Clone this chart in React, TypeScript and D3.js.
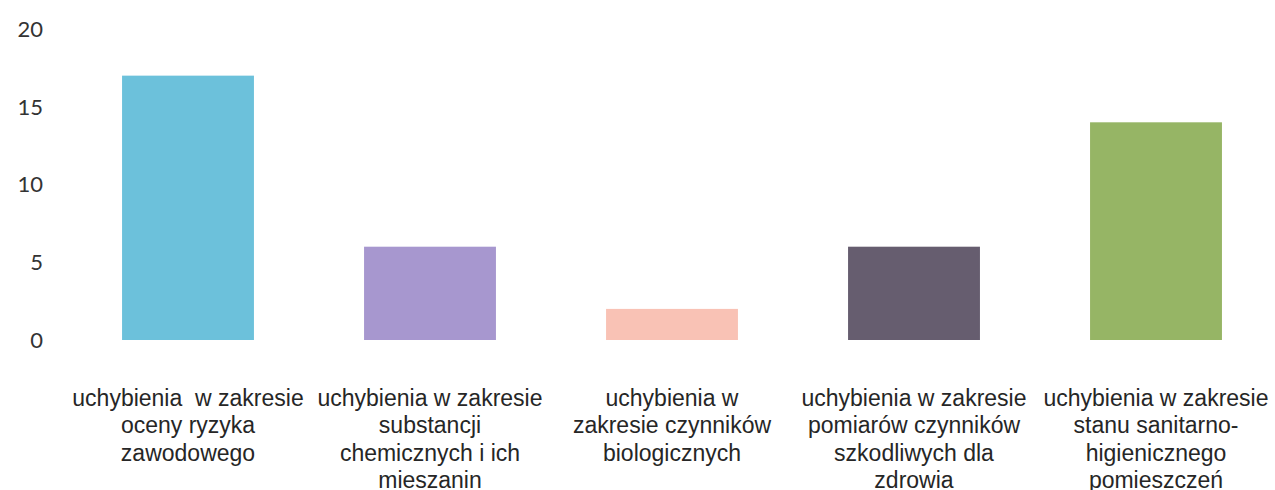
import React from "react";
import * as d3 from "d3";

const categories: string[][] = [
  ["uchybienia  w zakresie", "oceny ryzyka", "zawodowego"],
  ["uchybienia w zakresie", "substancji", "chemicznych i ich", "mieszanin"],
  ["uchybienia w", "zakresie czynników", "biologicznych"],
  ["uchybienia w zakresie", "pomiarów czynników", "szkodliwych dla", "zdrowia"],
  ["uchybienia w zakresie", "stanu sanitarno-", "higienicznego", "pomieszczeń"],
];
const values: number[] = [17, 6, 2, 6, 14];
const colors: string[] = ["#6cc1db", "#a797cf", "#f9c2b5", "#665d6f", "#96b565"];
const yTicks: number[] = [0, 5, 10, 15, 20];

const W = 1275;
const H = 490;

export default function App() {
  const x = d3
    .scaleBand<number>()
    .domain(d3.range(values.length))
    .range([67, 1277])
    .paddingInner(0.455)
    .paddingOuter(0.2275);
  const y = d3.scaleLinear().domain([0, 20]).range([340, 29]);

  const baseY = 406;
  const lineH = 27.4;

  return (
    <svg
      width={W}
      height={H}
      style={{ position: "absolute", left: 0, top: 0, background: "#fff" }}
    >
      <rect x={0} y={0} width={W} height={H} fill="#fff" />
      {yTicks.map((t) => (
        <text
          key={t}
          x={43}
          y={y(t)}
          dy="0.36em"
          textAnchor="end"
          fontFamily="Lato, 'Open Sans', sans-serif"
          fontSize={22}
          fill="#333"
        >
          {t}
        </text>
      ))}
      {values.map((v, i) => (
        <rect
          key={i}
          x={x(i)}
          y={y(v)}
          width={x.bandwidth()}
          height={y(0) - y(v)}
          fill={colors[i]}
        />
      ))}
      {categories.map((lines, i) => {
        const cx = (x(i) ?? 0) + x.bandwidth() / 2;
        return (
          <text
            key={i}
            x={cx}
            y={baseY}
            textAnchor="middle"
            fontFamily="'Liberation Sans', Arial, sans-serif"
            fontSize={23}
            fill="#262626"
            style={{ whiteSpace: "pre" }}
          >
            {lines.map((l, j) => (
              <tspan key={j} x={cx} y={baseY + j * lineH}>
                {l}
              </tspan>
            ))}
          </text>
        );
      })}
    </svg>
  );
}
